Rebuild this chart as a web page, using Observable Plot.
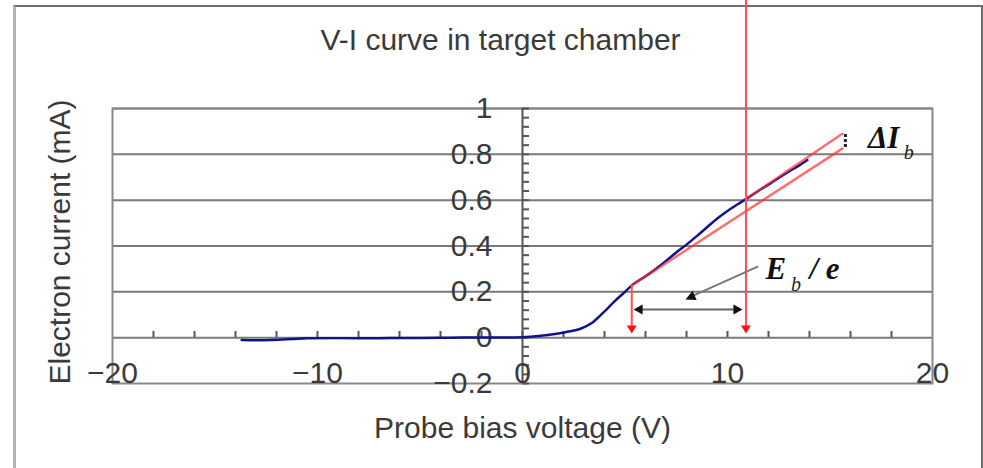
<!DOCTYPE html>
<html>
<head>
<meta charset="utf-8">
<script src="https://cdn.jsdelivr.net/npm/d3@7"></script>
<script src="https://cdn.jsdelivr.net/npm/@observablehq/plot@0.6"></script>
<style>
  body { margin: 0; background: #fff; }
  #chart { position: relative; width: 983px; height: 468px; overflow: hidden; background: #fff; }
  #border { position: absolute; left: 13px; top: 5px; width: 970px; height: 480px; box-sizing: border-box;
            border-top: 2px solid #6e6e6e; border-left: 3px solid #b4b4b4; border-right: 2px solid #6e6e6e; }
  #chart svg { position: absolute; left: 0; top: 0; }
</style>
</head>
<body>
<div id="chart"><div id="border"></div></div>
<script>
// Langmuir probe V-I characteristic (probe bias in V, electron current in mA)
const voltage = [-13.7, -13.0, -12.2, -11.2, -10.5, -9.0, -7.0, -5.0, -3.5, -2.0, -1.0, 0.0, 0.5, 1.0, 1.5,
                 2.1, 2.8, 3.4, 3.95, 4.45, 5.0, 5.33, 6.0, 6.5, 7.0, 7.5, 8.0, 8.5, 9.0, 9.5, 10.0,
                 10.5, 10.9, 11.5, 12.0, 12.5, 13.0, 13.5, 13.9];
const current = [-0.010, -0.011, -0.010, -0.006, -0.003, -0.002, -0.002, -0.001, 0.000, 0.001, 0.001, 0.002, 0.005, 0.009, 0.015,
                 0.024, 0.038, 0.065, 0.110, 0.155, 0.200, 0.228, 0.268, 0.300, 0.335, 0.372, 0.406, 0.443, 0.482, 0.520, 0.553,
                 0.582, 0.605, 0.640, 0.668, 0.697, 0.725, 0.752, 0.775];

// Straight-line fits of the electron saturation branch
const lowerFitV = [5.33, 15.6];
const lowerFitI = [0.228, 0.825];
const upperFitV = [10.9, 15.6];
const upperFitI = [0.605, 0.890];

// Marked voltages: knee of the curve and plasma potential
const kneeV = 5.33;
const kneeI = 0.228;
const plasmaV = 10.9;

// E_b/e span arrow and pointer
const spanV = [5.42, 10.73];
const spanI = 0.123;
const pointerFrom = [11.5, 0.311];
const pointerTo = [7.95, 0.167];

// Delta I_b bracket
const deltaV = 15.75;
const deltaI = [0.83, 0.89];

// Axes
const xTicks = [-20, -10, 0, 10, 20];
const xTickLabels = ["\u221220", "\u221210", "0", "10", "20"];
const yTicks = [-0.2, 0, 0.2, 0.4, 0.6, 0.8, 1];
const yTickLabels = ["\u22120.2", "0", "0.2", "0.4", "0.6", "0.8", "1"];
const gridLines = [0, 0.2, 0.4, 0.6, 0.8, 1];
const xMinorTicks = d3.range(-18, 19, 2);
const yMinorTicks = d3.range(-0.2, 1.0001, 0.04);

const curve = voltage.map((v, k) => ({v, i: current[k]}));
const lowerFit = lowerFitV.map((v, k) => ({v, i: lowerFitI[k]}));
const upperFit = upperFitV.map((v, k) => ({v, i: upperFitI[k]}));

// Filled arrowhead whose tip sits on the dot position, pointing `deg` clockwise from up
function head(deg, len, half) {
  const a = deg * Math.PI / 180, c = Math.cos(a), s = Math.sin(a);
  const pt = (px, py) => [px * c - py * s, px * s + py * c];
  return {
    draw(ctx) {
      const p0 = pt(0, 0), p1 = pt(-half, len), p2 = pt(half, len);
      ctx.moveTo(p0[0], p0[1]); ctx.lineTo(p1[0], p1[1]); ctx.lineTo(p2[0], p2[1]); ctx.closePath();
    }
  };
}

const sans = "'Liberation Sans', Arial, sans-serif";
const serif = "'Liberation Serif', 'Times New Roman', serif";
const ink = "#3a3a3a";
const gray = "#7a7a7a";
const red = "#ff4f4f";
const centered = {textAnchor: "middle", lineAnchor: "middle", fill: ink, fontFamily: sans, fontSize: 30};

const chart = Plot.plot({
  width: 983,
  height: 468,
  marginLeft: 112,
  marginRight: 51,
  marginTop: 108,
  marginBottom: 85,
  x: {domain: [-20, 20], axis: null},
  y: {domain: [-0.2, 1], axis: null},
  style: {background: "transparent", overflow: "visible", fontFamily: sans},
  marks: [
    // horizontal gridlines and plot frame
    Plot.ruleY(gridLines, {x1: -20, x2: 20, stroke: gray, strokeWidth: 2}),
    Plot.frame({stroke: "#888", strokeWidth: 2}),
    // y axis through V = 0 with minor ticks, x minor ticks on I = 0
    Plot.ruleX([0], {y1: -0.2, y2: 1, stroke: "#555", strokeWidth: 2}),
    Plot.ruleY(yMinorTicks, {x1: 0, x2: 0.34, stroke: "#555", strokeWidth: 2}),
    Plot.ruleX(xMinorTicks, {y1: 0, y2: 0.027, stroke: "#555", strokeWidth: 2}),

    // tick labels
    Plot.text(yTicks, {x: 0, y: d => d, text: yTickLabels, textAnchor: "end", dx: -30,
      fontSize: 30, fill: ink, fontFamily: sans}),
    Plot.text(xTicks, {x: d => d, y: -0.2, text: xTickLabels, dy: -10,
      fontSize: 30, fill: ink, fontFamily: sans}),

    // titles
    Plot.text(["V-I curve in target chamber"], {...centered, frameAnchor: "top", dx: -22, dy: -68, text: d => d}),
    Plot.text(["Probe bias voltage (V)"], {...centered, frameAnchor: "bottom", dy: 45, text: d => d}),
    Plot.text(["Electron current (mA)"], {...centered, frameAnchor: "left", dx: -52, dy: -4, rotate: -90, text: d => d}),

    // measured curve
    Plot.line(curve, {x: "v", y: "i", stroke: "#12128a", strokeWidth: 2.5, curve: "monotone-x"}),

    // fit lines
    Plot.line(lowerFit, {x: "v", y: "i", stroke: "#ff3030", strokeOpacity: 0.7, strokeWidth: 2.5}),
    Plot.line(upperFit, {x: "v", y: "i", stroke: "#ff3030", strokeOpacity: 0.7, strokeWidth: 2.5}),

    // vertical markers at the knee and the plasma potential
    Plot.ruleX([kneeV], {y1: 0.03, y2: kneeI, stroke: red, strokeWidth: 2}),
    Plot.ruleX([plasmaV], {y1: 0.03, y2: 1.5, stroke: red, strokeWidth: 2}),
    Plot.dot([kneeV, plasmaV], {x: d => d, y: 0.018, symbol: head(180, 8, 5), fill: "#ff1010", stroke: "none"}),

    // E_b/e span
    Plot.ruleY([spanI], {x1: spanV[0] + 0.2, x2: spanV[1] - 0.2, stroke: "#666", strokeWidth: 2}),
    Plot.dot([spanV[0]], {x: d => d, y: spanI, symbol: head(270, 9, 5), fill: "#111", stroke: "none"}),
    Plot.dot([spanV[1]], {x: d => d, y: spanI, symbol: head(90, 9, 5), fill: "#111", stroke: "none"}),
    Plot.link([0], {x1: pointerFrom[0], y1: pointerFrom[1], x2: pointerTo[0] + 0.3, y2: pointerTo[1] + 0.013,
      stroke: "#777", strokeWidth: 2}),
    Plot.dot([0], {x: pointerTo[0], y: pointerTo[1], symbol: head(246, 10, 5), fill: "#111", stroke: "none"}),

    // Delta I_b bracket
    Plot.ruleX([deltaV], {y1: deltaI[0], y2: deltaI[1], stroke: "#222", strokeWidth: 3, strokeDasharray: "3 2"}),

    // annotation labels
    Plot.text(["E"], {x: 11.85, y: 0.30, text: d => d, textAnchor: "start", fontSize: 31, fontStyle: "italic",
      fontWeight: "bold", fontFamily: serif, fill: "#111"}),
    Plot.text(["b"], {x: 13.1, y: 0.232, text: d => d, textAnchor: "start", fontSize: 20, fontStyle: "italic",
      fontFamily: serif, fill: "#222"}),
    Plot.text(["/ e"], {x: 14.0, y: 0.30, text: d => d, textAnchor: "start", fontSize: 31, fontStyle: "italic",
      fontWeight: "bold", fontFamily: serif, fill: "#111"}),
    Plot.text(["\u0394I"], {x: 16.85, y: 0.873, text: d => d, textAnchor: "start", fontSize: 31, fontStyle: "italic",
      fontWeight: "bold", fontFamily: serif, fill: "#111"}),
    Plot.text(["b"], {x: 18.6, y: 0.807, text: d => d, textAnchor: "start", fontSize: 20, fontStyle: "italic",
      fontFamily: serif, fill: "#222"})
  ]
});

document.getElementById("chart").appendChild(chart);
</script>
</body>
</html>
